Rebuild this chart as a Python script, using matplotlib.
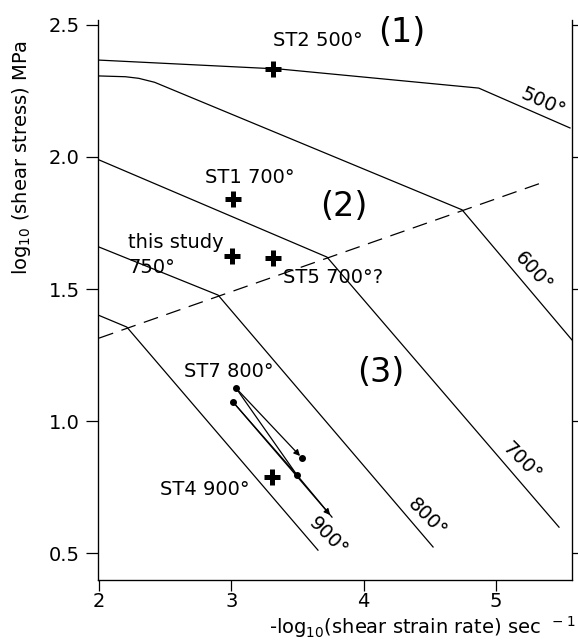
import matplotlib.pyplot as plt

# deformation-mechanism boundaries, one polyline per temperature
t500_x = [2.0, 3.37, 4.87, 5.56]
t500_y = [2.367, 2.333, 2.261, 2.11]
t600_x = [2.0, 2.2, 2.3, 2.42, 4.744, 5.575]
t600_y = [2.307, 2.304, 2.298, 2.283, 1.800, 1.307]
t700_x = [2.0, 3.723, 5.477]
t700_y = [1.989, 1.621, 0.598]
t800_x = [2.0, 2.9, 4.525]
t800_y = [1.659, 1.477, 0.523]
t900_x = [2.0, 2.21, 3.655]
t900_y = [1.40, 1.356, 0.511]
dash_x = [2.0, 5.333]
dash_y = [1.314, 1.90]

# samples plotted as crosses
cross_x = [3.315, 3.013, 3.005, 3.315, 3.307]
cross_y = [2.333, 1.841, 1.625, 1.617, 0.788]

# ST7 path segments (start -> end) and whether they carry an arrowhead
st7_x0 = [3.035, 3.035, 3.013, 3.013, 3.497]
st7_y0 = [1.125, 1.125, 1.072, 1.072, 0.795]
st7_x1 = [3.534, 3.497, 3.497, 3.761, 3.761]
st7_y1 = [0.860, 0.795, 0.795, 0.636, 0.636]
st7_arrow = [True, False, False, True, False]
st7_dot_x = [3.035, 3.013, 3.534, 3.497]
st7_dot_y = [1.125, 1.072, 0.860, 0.795]

fs = 14

fig = plt.figure(figsize=(5.78, 6.44), dpi=100)
ax = fig.add_axes([0.169, 0.0994, 0.8206, 0.8696])

for xs, ys in [(t500_x, t500_y), (t600_x, t600_y), (t700_x, t700_y),
               (t800_x, t800_y), (t900_x, t900_y)]:
    ax.plot(xs, ys, color='black', lw=0.9)
ax.plot(dash_x, dash_y, color='black', lw=0.9, dashes=(12, 7))

ax.plot(cross_x, cross_y, ls='none', marker='+', ms=11.5, mew=3.6, color='black')

for x0, y0, x1, y1, arr in zip(st7_x0, st7_y0, st7_x1, st7_y1, st7_arrow):
    if arr:
        ax.annotate('', xy=(x1, y1), xytext=(x0, y0),
                    arrowprops=dict(arrowstyle='-|>', color='black', lw=0.9,
                                    mutation_scale=9, shrinkA=0, shrinkB=2))
    else:
        ax.plot([x0, x1], [y0, y1], color='black', lw=0.9)
ax.plot(st7_dot_x, st7_dot_y, ls='none', marker='o', ms=4, color='black')

# temperature labels along the curves
ax.text(5.356, 2.208, '500°', rotation=-24, ha='center', va='center', fontsize=fs)
ax.text(5.28, 1.564, '600°', rotation=-48, ha='center', va='center', fontsize=fs)
ax.text(5.197, 0.845, '700°', rotation=-45, ha='center', va='center', fontsize=fs)
ax.text(4.479, 0.633, '800°', rotation=-45, ha='center', va='center', fontsize=fs)
ax.text(3.731, 0.561, '900°', rotation=-45, ha='center', va='center', fontsize=fs)

# sample labels and regime numbers
ax.text(3.315, 2.443, 'ST2 500°', ha='left', va='center', fontsize=fs)
ax.text(2.80, 1.924, 'ST1 700°', ha='left', va='center', fontsize=fs)
ax.text(2.219, 1.678, 'this study', ha='left', va='center', fontsize=fs)
ax.text(2.219, 1.583, '750°', ha='left', va='center', fontsize=fs)
ax.text(3.39, 1.542, 'ST5 700°?', ha='left', va='center', fontsize=fs)
ax.text(2.642, 1.186, 'ST7 800°', ha='left', va='center', fontsize=fs)
ax.text(2.461, 0.739, 'ST4 900°', ha='left', va='center', fontsize=fs)
ax.text(4.109, 2.47, '(1)', ha='left', va='center', fontsize=24)
ax.text(3.67, 1.811, '(2)', ha='left', va='center', fontsize=24)
ax.text(3.95, 1.182, '(3)', ha='left', va='center', fontsize=24)

ax.set_xlim(1.99, 5.575)
ax.set_ylim(0.398, 2.519)
ax.set_xticks([2, 3, 4, 5])
ax.set_yticks([0.5, 1.0, 1.5, 2.0, 2.5])
ax.set_yticklabels(['0.5', '1.0', '1.5', '2.0', '2.5'])
ax.tick_params(direction='out', length=9, width=0.9, labelsize=fs)
ax.tick_params(axis='x', length=8, pad=1)
ax.tick_params(axis='y', pad=4)
ax.spines['top'].set_visible(False)
for s in ['left', 'bottom', 'right']:
    ax.spines[s].set_linewidth(0.9)

# short ticks on the right-hand axis
ax2 = ax.twinx()
ax2.set_ylim(ax.get_ylim())
ax2.set_yticks([0.5, 1.0, 1.5, 2.0, 2.5])
ax2.set_yticklabels([])
ax2.tick_params(direction='out', length=4, width=0.9)
ax2.spines['top'].set_visible(False)

ax.set_ylabel('log$_{10}$ (shear stress) MPa', fontsize=fs)
ax.yaxis.set_label_coords(-0.136, 0.755)
fig.text(0.995, 0.016, '-log$_{10}$(shear strain rate) sec$^{\\ \\ -1}$',
         ha='right', va='baseline', fontsize=fs)

fig.savefig('out.png', dpi=100)
